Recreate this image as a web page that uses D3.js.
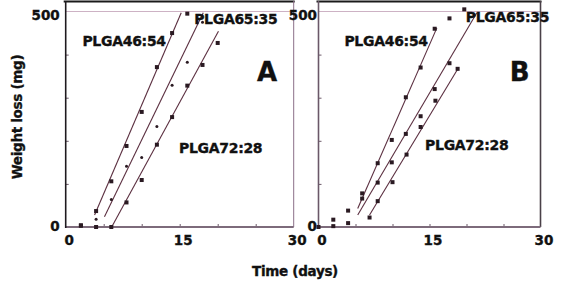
<!DOCTYPE html>
<html>
<head>
<meta charset="utf-8">
<script src="https://cdn.jsdelivr.net/npm/d3@7"></script>
<style>
  html, body { margin: 0; padding: 0; background: #fff; }
  svg text { font-family: "DejaVu Sans", sans-serif; font-weight: bold; fill: #111; stroke: #111; stroke-width: 0.35; }
</style>
</head>
<body>
<svg id="chart" width="562" height="286"></svg>
<script>
// series names
var seriesNames = ["PLGA46:54", "PLGA65:35", "PLGA72:28"];

// panel A (days, mg)
var a4654Days = [2, 4, 6, 8, 10, 12, 14, 16];
var a4654Loss = [3, 37, 106, 188, 267, 371, 450, 495];
var a6535Days = [2, 4, 6, 8, 10, 12, 14, 16, 18];
var a6535Loss = [3, 18, 64, 141, 161, 233, 329, 382, 475];
var a7228Days = [2, 4, 6, 8, 10, 12, 14, 16, 18, 20];
var a7228Loss = [4, 0, 0, 57, 109, 191, 255, 328, 376, 427];
// fitted lines, panel A (start / end)
var a4654FitDays = [3.8, 15.2],  a4654FitLoss = [28, 497];
var a6535FitDays = [5.1, 18.1],  a6535FitLoss = [24, 497];
var a7228FitDays = [6.05, 20.1], a7228FitLoss = [0, 454];

// panel B
var b4654Days = [2, 4, 5.9, 8.0, 9.9, 11.8, 13.8, 15.7, 17.7];
var b4654Loss = [17, 38, 78, 148, 202, 301, 370, 460, 484];
var b6535Days = [0, 2, 4, 5.9, 8.0, 9.9, 11.8, 13.8, 15.7, 17.7, 19.7];
var b6535Loss = [0, 2, 9, 66, 103, 150, 216, 257, 320, 380, 505];
var b7228Days = [6.9, 8.0, 10.0, 11.9, 13.8, 15.8, 18.8];
var b7228Loss = [22, 60, 104, 168, 232, 293, 367];
var b4654FitDays = [5.3, 16.0], b4654FitLoss = [43, 462];
var b6535FitDays = [5.3, 21.4], b6535FitLoss = [28, 497];
var b7228FitDays = [6.9, 18.9], b7228FitLoss = [28, 369];

// ticks
var xTickLabels = [0, 15, 30];
var xMinorTicks = [5, 10, 15, 20, 25];
var yTickLabels = [0, 500];
var yMinorTicks = [100, 200, 300, 400];

// label anchors in data units (day, mg)
var labelDaysA = [2.2, 16.9, 14.9], labelLossA = [421, 472, 172];
var labelDaysB = [3.5, 19.9, 14.4], labelLossB = [421, 475, 179];

var svg = d3.select("#chart");
var y = d3.scaleLinear().domain([0, 500]).range([227, 11.5]);

function zip(xs, ys) {
	return xs.map(function(d, i) { return {day: d, loss: ys[i]}; });
}

function drawPanel(opt) {
	var x = d3.scaleLinear().domain([0, 30]).range(opt.xRange);
	var g = svg.append("g");
	var x0 = opt.xRange[0], x1 = opt.xRange[1];

	// frame
	g.append("line").attr("x1", x0 - 2).attr("x2", x1 + 1).attr("y1", 1.5).attr("y2", 1.5)
		.attr("stroke", "#1a1a1a").attr("stroke-width", 2.2);
	g.append("line").attr("x1", x0).attr("x2", x1).attr("y1", y(500)).attr("y2", y(500))
		.attr("stroke", "#cdb2c4").attr("stroke-width", 1);
	g.append("line").attr("x1", x1).attr("x2", x1).attr("y1", 1).attr("y2", y(0))
		.attr("stroke", opt.rightColor).attr("stroke-width", opt.rightWidth);

	// minor inward ticks
	g.append("g").attr("transform", "translate(0," + y(0) + ")")
		.call(d3.axisBottom(x).tickValues(xMinorTicks).tickSize(-3).tickFormat(""))
		.call(function(s) { s.select(".domain").remove(); s.selectAll("line").attr("stroke", "#6d5a6a"); });
	g.append("g").attr("transform", "translate(" + x0 + ",0)")
		.call(d3.axisLeft(y).tickValues(yMinorTicks).tickSize(-3).tickFormat(""))
		.call(function(s) { s.select(".domain").remove(); s.selectAll("line").attr("stroke", "#6d5a6a"); });

	// axes lines
	g.append("line").attr("x1", x0).attr("x2", x1).attr("y1", y(0)).attr("y2", y(0))
		.attr("stroke", "#7d6b7b").attr("stroke-width", 2);
	g.append("line").attr("x1", x0).attr("x2", x0).attr("y1", 1).attr("y2", y(0) + 1)
		.attr("stroke", opt.leftColor).attr("stroke-width", 1.6);

	// tick labels
	var xa = g.append("g").attr("transform", "translate(0," + y(0) + ")")
		.call(d3.axisBottom(x).tickValues(xTickLabels).tickSize(0).tickPadding(8));
	xa.select(".domain").remove();
	xa.selectAll("text").attr("font-size", 13.5).attr("dx", 3)
		.style("font-family", "DejaVu Sans").style("font-weight", "bold").attr("fill", "#111");

	var ya = g.append("g").attr("transform", "translate(" + x0 + ",0)")
		.call(d3.axisLeft(y).tickValues(yTickLabels).tickSize(0).tickPadding(opt.yPad));
	ya.select(".domain").remove();
	ya.selectAll("text").attr("font-size", 13.5)
		.attr("dy", function(d) { return d === 500 ? "0.62em" : "0.25em"; })
		.style("font-family", "DejaVu Sans").style("font-weight", "bold").attr("fill", "#111");

	// fit lines
	var line = d3.line().x(function(d) { return x(d.day); }).y(function(d) { return y(d.loss); });
	opt.fits.forEach(function(f) {
		g.append("path").datum(zip(f[0], f[1])).attr("d", line)
			.attr("fill", "none").attr("stroke", "#5b2f40").attr("stroke-width", 1.1);
	});

	// points
	opt.points.forEach(function(p) {
		var pts = zip(p.days, p.loss);
		if (p.shape === "dot") {
			g.append("g").selectAll("circle").data(pts).enter().append("circle")
				.attr("cx", function(d) { return x(d.day); })
				.attr("cy", function(d) { return y(d.loss); })
				.attr("r", 1.5).attr("fill", "#2a1a22");
		} else {
			g.append("g").selectAll("rect").data(pts).enter().append("rect")
				.attr("x", function(d) { return x(d.day) - 2; })
				.attr("y", function(d) { return y(d.loss) - 2; })
				.attr("width", 4).attr("height", 4).attr("fill", "#2a1a22");
		}
	});

	// series labels
	seriesNames.forEach(function(name, i) {
		g.append("text").attr("x", x(opt.labelDays[i])).attr("y", y(opt.labelLoss[i]))
			.attr("font-size", 14).attr("letter-spacing", -0.3).text(name);
	});

	// panel letter
	g.append("text").attr("x", x(opt.letterDay)).attr("y", y(338))
		.attr("text-anchor", "middle").attr("font-size", 26).text(opt.letter);
}

drawPanel({
	xRange: [65.7, 293.7], letter: "A", letterDay: 26.5,
	leftColor: "#1e1a1e", rightColor: "#8c6f88", rightWidth: 1, yPad: 6,
	labelDays: labelDaysA, labelLoss: labelLossA,
	fits: [[a4654FitDays, a4654FitLoss], [a6535FitDays, a6535FitLoss], [a7228FitDays, a7228FitLoss]],
	points: [
		{days: a4654Days, loss: a4654Loss, shape: "square"},
		{days: a6535Days, loss: a6535Loss, shape: "dot"},
		{days: a7228Days, loss: a7228Loss, shape: "square"}
	]
});

drawPanel({
	xRange: [318.5, 540.5], letter: "B", letterDay: 27.2,
	leftColor: "#6a5868", rightColor: "#4a4048", rightWidth: 1.6, yPad: 1.5,
	labelDays: labelDaysB, labelLoss: labelLossB,
	fits: [[b4654FitDays, b4654FitLoss], [b6535FitDays, b6535FitLoss], [b7228FitDays, b7228FitLoss]],
	points: [
		{days: b4654Days, loss: b4654Loss, shape: "square"},
		{days: b6535Days, loss: b6535Loss, shape: "square"},
		{days: b7228Days, loss: b7228Loss, shape: "square"}
	]
});

// axis titles
svg.append("text").attr("x", 295).attr("y", 276).attr("text-anchor", "middle")
	.attr("font-size", 13.5).attr("letter-spacing", -0.3).text("Time (days)");
svg.append("text").attr("transform", "translate(22,117) rotate(-90)").attr("text-anchor", "middle")
	.attr("font-size", 13.5).attr("letter-spacing", -0.3).text("Weight loss (mg)");
</script>
</body>
</html>
